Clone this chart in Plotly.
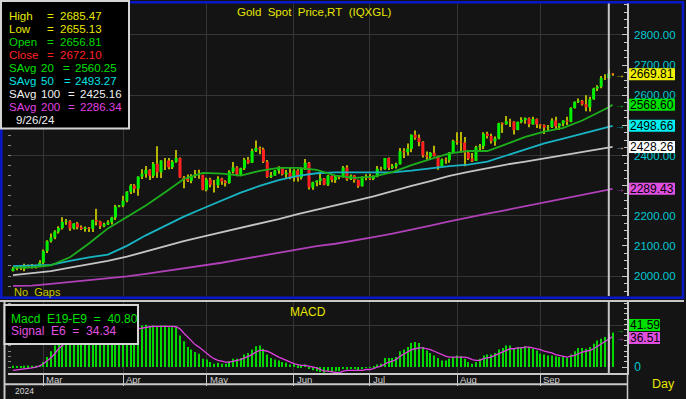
import pandas as pd
import plotly.graph_objects as go

# ---------------- data ----------------
dates = pd.bdate_range("2024-02-20", "2024-09-27")

open_ = [2017, 2025, 2025, 2024, 2035, 2031, 2030, 2034,
         2044, 2083, 2115, 2128, 2148, 2159, 2179, 2182, 2158, 2174, 2162, 2156, 2160, 2157, 2186, 2181, 2165, 2172, 2178, 2194, 2230,
         2233, 2250, 2280, 2300, 2290, 2330, 2339, 2352, 2333, 2373, 2344, 2383, 2383, 2361, 2379, 2392, 2327, 2322, 2316, 2332, 2337, 2335,
         2286, 2320, 2303, 2301, 2323, 2314, 2309, 2346, 2360, 2336, 2358, 2386, 2376, 2415, 2425, 2421, 2379, 2329, 2334, 2350, 2360, 2338, 2343,
         2327, 2350, 2326, 2355, 2376, 2294, 2311, 2316, 2324, 2303, 2333, 2319, 2329, 2328, 2360, 2321, 2334, 2319, 2298, 2327,
         2326, 2323, 2330, 2356, 2355, 2392, 2359, 2364, 2371, 2414, 2411, 2422, 2469, 2459, 2445, 2400, 2396, 2409, 2398, 2364, 2387, 2384, 2410,
         2448, 2446, 2443, 2410, 2390, 2382, 2427, 2431, 2472, 2465, 2447, 2456, 2507, 2504, 2514, 2512, 2485, 2512, 2518, 2524, 2504, 2521,
         2503, 2500, 2493, 2495, 2516, 2497, 2506, 2516, 2512, 2558, 2578, 2582, 2570, 2560, 2587, 2622, 2628, 2657.5, 2656.81, 2672.10]
high = [2031, 2033, 2035, 2041, 2038, 2040, 2037, 2052,
        2088, 2119, 2141, 2152, 2165, 2195, 2189, 2185, 2175, 2179, 2168, 2164, 2163, 2187, 2223, 2183, 2177, 2185, 2197, 2236, 2236,
        2266, 2281, 2305, 2305, 2330, 2354, 2365, 2354, 2378, 2431, 2384, 2392, 2392, 2385, 2418, 2393, 2332, 2337, 2338, 2352, 2353, 2336,
        2326, 2326, 2319, 2331, 2326, 2318, 2351, 2378, 2364, 2359, 2392, 2395, 2422, 2450, 2430, 2426, 2385, 2345, 2352, 2364, 2362, 2352, 2361,
        2354, 2354, 2361, 2388, 2378, 2313, 2318, 2342, 2325, 2335, 2334, 2333, 2333, 2365, 2368, 2337, 2335, 2320, 2331, 2338,
        2339, 2334, 2365, 2363, 2392, 2393, 2372, 2376, 2425, 2424, 2440, 2470, 2483, 2470, 2447, 2413, 2412, 2432, 2399, 2390, 2393, 2412, 2452,
        2477, 2478, 2461, 2418, 2408, 2432, 2438, 2477, 2479, 2472, 2463, 2509, 2510, 2531, 2522, 2514, 2512, 2527, 2526, 2526, 2529, 2523,
        2504, 2503, 2501, 2524, 2529, 2507, 2517, 2529, 2560, 2579, 2589, 2584, 2600, 2595, 2625, 2633, 2664, 2670, 2685.47, 2674]
low = [2015, 2019, 2020, 2016, 2026, 2025, 2025, 2029,
       2039, 2076, 2111, 2122, 2141, 2154, 2170, 2150, 2154, 2155, 2153, 2147, 2146, 2146, 2168, 2156, 2162, 2169, 2171, 2186, 2228,
       2228, 2245, 2272, 2276, 2266, 2322, 2326, 2319, 2325, 2326, 2325, 2352, 2354, 2355, 2376, 2325, 2291, 2312, 2308, 2325, 2323, 2285,
       2281, 2295, 2277, 2292, 2303, 2297, 2306, 2340, 2331, 2333, 2352, 2373, 2375, 2412, 2404, 2375, 2326, 2325, 2333, 2339, 2334, 2323, 2321,
       2314, 2314, 2320, 2352, 2287, 2286, 2298, 2302, 2301, 2299, 2311, 2309, 2321, 2327, 2316, 2319, 2310, 2293, 2297, 2318,
       2319, 2318, 2328, 2350, 2353, 2352, 2355, 2357, 2370, 2392, 2400, 2411, 2452, 2431, 2393, 2384, 2385, 2397, 2353, 2364, 2373, 2376, 2408,
       2436, 2410, 2364, 2385, 2378, 2382, 2415, 2421, 2456, 2440, 2432, 2454, 2475, 2502, 2495, 2470, 2484, 2507, 2505, 2494, 2502, 2491,
       2489, 2471, 2482, 2491, 2485, 2485, 2497, 2501, 2510, 2556, 2574, 2566, 2547, 2546, 2585, 2614, 2623, 2651, 2655.13, 2665]
close = [2025, 2025.5, 2024, 2035, 2031, 2030, 2034, 2044,
         2083, 2115, 2128, 2148, 2159, 2179, 2182, 2158, 2174, 2162, 2156, 2160, 2157, 2186, 2181, 2165, 2172, 2178, 2194, 2230, 2233,
         2250, 2280, 2300, 2290, 2330, 2339, 2352, 2333, 2373, 2344, 2383, 2383.5, 2361, 2379, 2392, 2327, 2322, 2316, 2332, 2337, 2335, 2286,
         2320, 2303, 2301, 2323, 2314, 2309, 2346, 2360, 2336, 2358, 2386, 2376, 2415, 2425, 2421, 2379, 2329, 2334, 2350, 2360, 2338, 2343, 2327,
         2350, 2326, 2355, 2376, 2294, 2311, 2316, 2324, 2303, 2333, 2319, 2329, 2328, 2360, 2321, 2334, 2319, 2298, 2327, 2326,
         2323, 2330, 2356, 2355, 2392, 2359, 2364, 2371, 2414, 2411, 2422, 2469, 2459, 2445, 2400, 2396, 2409, 2398, 2364, 2387, 2384, 2410, 2448,
         2446, 2443, 2410, 2390, 2382, 2427, 2431, 2472, 2465, 2447, 2456, 2507, 2504, 2514, 2512, 2485, 2512, 2518, 2524, 2504, 2521, 2503,
         2500, 2493, 2495, 2516, 2497, 2506, 2516, 2512, 2558, 2578, 2582, 2570, 2560, 2587, 2622, 2628, 2657, 2656.8, 2672.10, 2669.81]

ma_days = list(range(0, 156, 5)) + [157, 158]
sma20 = [2028, 2029, 2035, 2062, 2108, 2158, 2196, 2234, 2277, 2322, 2342, 2340, 2333, 2349, 2359, 2359, 2352,
         2333, 2326, 2330, 2345, 2368, 2388, 2407, 2415, 2415, 2438, 2462, 2479, 2492, 2516, 2546, 2560.25, 2568.60]
sma50 = [2033, 2034, 2037, 2050, 2062, 2071, 2100, 2135, 2166, 2197, 2224, 2251, 2277, 2299, 2318, 2332, 2341,
         2344, 2344, 2342, 2344, 2350, 2358, 2365, 2370, 2380, 2400, 2420, 2440, 2456, 2472, 2488, 2493.27, 2498.66]
sma100 = [2003, 2009, 2016, 2028, 2038, 2050, 2064, 2081, 2100, 2116, 2131, 2145, 2160, 2175, 2189, 2205, 2219,
          2234, 2249, 2264, 2282, 2299, 2315, 2332, 2346, 2359, 2370, 2380, 2390, 2400, 2410, 2420, 2425.16, 2428.26]
sma200 = [1967, 1968, 1974, 1980, 1986, 1992, 1999, 2007, 2016, 2026, 2035, 2044, 2055, 2066, 2077, 2089, 2099,
          2107, 2117, 2129, 2141, 2153, 2167, 2181, 2195, 2207, 2219, 2232, 2245, 2258, 2270, 2282, 2286.34, 2289.43]

macd = [1.5, 1.0, 0.8, 1.5, 1.8, 1.5, 1.6, 2.5,
        6, 12, 19, 26, 32, 38, 42, 41, 41, 39,
        37, 35, 33, 35, 35, 33, 31, 30, 31, 34,
        38, 41, 45, 48, 48, 50, 50, 51, 49, 50,
        49, 50, 50, 48, 48, 48, 38, 31, 24, 21,
        18, 16, 10, 9, 6, 4, 5, 4, 4, 7,
        10, 10, 11, 15, 17, 21, 25, 26, 22, 15,
        11, 9, 8, 6, 5, 3, 4, 2, 2, 3,
        -2, -4, -5, -6, -7, -5, -6, -5, -5, -2,
        -3, -2, -2, -4, -2, -1, -1, 0.5, 3, 4,
        11, 11, 11, 12, 19, 21, 24, 29, 30, 29,
        24, 20, 17, 14, 11, 8, 8, 10, 12, 14,
        13, 10, 6, 4, 6, 10, 14, 15, 15, 17,
        21, 23, 26, 26, 23, 24, 24, 25, 24, 22,
        20, 16, 15, 14, 14, 13, 12, 12, 11, 15,
        19, 23, 23, 22, 24, 28, 32, 34, 36, 40.80,
        41.59]
signal = [-4, -3.5, -3, -2.5, -2, -1, 0, 1.5,
          4, 7, 11, 16, 22, 26, 30, 33, 35, 36,
          36, 36, 35, 35, 35, 34, 33, 32, 32, 33,
          34, 36, 39, 42, 44, 46, 47, 48, 48.5, 49,
          49, 49.5, 49.5, 49, 49, 48.5, 46, 41, 36, 31,
          27, 24, 20, 16, 13, 10, 8, 7, 6, 6,
          7, 8, 9, 11, 13, 15, 18, 20, 20, 19,
          17, 14, 12, 10, 8, 6, 4, 3, 2, 2,
          1, 0, -1, -3, -5, -5, -6, -6.5, -7, -5,
          -4, -4, -4, -4, -4, -3, -3, -2, 0, 1,
          4, 6, 7, 9, 13, 16, 19, 21, 22, 23,
          23, 22, 21, 19, 17, 15, 13, 12, 12, 12,
          12, 12, 11, 9, 8, 8, 10, 11, 12, 14,
          16, 18, 20, 22, 22, 23, 23, 24, 24, 23,
          22, 21, 19, 18, 17, 15, 14, 13, 12, 13,
          14, 16, 18, 19, 20, 22, 25, 28, 31, 34.34,
          36.51]

month_labels = ["Mar", "Apr", "May", "Jun", "Jul", "Aug", "Sep"]
price_ticks = [2000, 2100, 2200, 2300, 2400, 2500, 2600, 2700, 2800]
hidden_price_labels = [2300, 2500]   # covered by the last-value boxes in the original
year_label = "2024"
cursor_day = 157   # 9/26/24
last_day = 158

# ---------------- helpers ----------------
W, H = 686, 399
FONT = "Liberation Sans, Arial, sans-serif"


def fx(p):
    return p / W


def fy(p):
    return 1 - p / H


def txt(text, x, y, color, size, anchor="left", **kw):
    d = dict(text=text, x=fx(x), y=fy(y), xref="paper", yref="paper", xanchor=anchor,
             yanchor="middle", showarrow=False, font=dict(family=FONT, size=size, color=color))
    d.update(kw)
    return d


def rect(x0, y0, x1, y1, line_color, fill=None, width=1, layer="above"):
    return dict(type="rect", xref="paper", yref="paper", x0=fx(x0), x1=fx(x1), y0=fy(y1), y1=fy(y0),
                line=dict(color=line_color, width=width), fillcolor=fill or "rgba(0,0,0,0)", layer=layer)


def line(x0, y0, x1, y1, color, width=1):
    return dict(type="line", xref="paper", yref="paper", x0=fx(x0), x1=fx(x1), y0=fy(y0), y1=fy(y1),
                line=dict(color=color, width=width), layer="above")


NB = "\u00a0"
x = list(range(len(dates)))
month_idx = [i for i in range(1, len(dates)) if dates[i].month != dates[i - 1].month]

C_GREEN_MA, C_CYAN_MA, C_GRAY_MA, C_MAG_MA = "#1cb01c", "#18b4c4", "#c4c4c4", "#b040b8"
BG = "#141414"
GRID = "#353535"
AXC = "#c8c8c8"

fig = go.Figure()

# wicks (under bodies)
fig.add_trace(go.Bar(x=x, y=[h - l for h, l in zip(high, low)], base=low, width=0.3,
                     marker=dict(color="#b4b400", line=dict(width=0)), xaxis="x", yaxis="y",
                     hoverinfo="skip", showlegend=False))
fig.add_trace(go.Candlestick(x=x, open=open_, high=high, low=low, close=close,
                             increasing=dict(fillcolor="#00f000", line=dict(color="#00f000", width=0)),
                             decreasing=dict(fillcolor="#ff2020", line=dict(color="#ff2020", width=0)),
                             whiskerwidth=0, xaxis="x", yaxis="y", showlegend=False))
for vals, col in [(sma200, C_MAG_MA), (sma100, C_GRAY_MA), (sma50, C_CYAN_MA), (sma20, C_GREEN_MA)]:
    fig.add_trace(go.Scatter(x=ma_days, y=vals, mode="lines", line=dict(color=col, width=1.8),
                             xaxis="x", yaxis="y", showlegend=False, hoverinfo="skip"))
# overlay axes holders (grid + left ticks)
fig.add_trace(go.Scatter(x=[None], y=[None], xaxis="x", yaxis="y3", showlegend=False, hoverinfo="skip"))
fig.add_trace(go.Scatter(x=[None], y=[None], xaxis="x2", yaxis="y4", showlegend=False, hoverinfo="skip"))

# MACD
bar_colors = ["#00d800"] * len(macd)
bar_colors[cursor_day] = "#e040e0"
fig.add_trace(go.Bar(x=x, y=macd, width=0.27, marker=dict(color=bar_colors, line=dict(width=0)),
                     xaxis="x2", yaxis="y2", showlegend=False))
fig.add_trace(go.Scatter(x=x, y=signal, mode="lines", line=dict(color="#e040e0", width=1.3),
                         xaxis="x2", yaxis="y2", showlegend=False))

xr = [-1.32, 161.8]
yr_main = [1933.6, 2906.2]
yr_macd = [-7.2, 79.5]
dom_x = [fx(8), fx(627)]

fig.update_layout(
    width=W, height=H, autosize=False, margin=dict(l=0, r=0, t=0, b=0),
    paper_bgcolor=BG, plot_bgcolor=BG, barmode="overlay", boxgap=0.2, boxgroupgap=0,
    hovermode=False, showlegend=False,
    font=dict(family=FONT),
    xaxis=dict(domain=dom_x, range=xr, anchor="y", tickmode="array", tickvals=month_idx,
               showticklabels=False, ticks="", showgrid=True, gridcolor=GRID, gridwidth=1,
               zeroline=False, showline=False, rangeslider=dict(visible=False)),
    yaxis=dict(domain=[fy(296), fy(3)], range=yr_main, anchor="x", side="right",
               tickmode="array", tickvals=price_ticks,
               ticktext=["" if v in hidden_price_labels else f"{v:.2f}" for v in price_ticks],
               tickfont=dict(color="#00c8d2", size=11.5, family=FONT), ticklabelstandoff=3,
               ticks="inside", ticklen=5, tickcolor=AXC, tickwidth=1,
               minor=dict(ticks="inside", ticklen=3, dtick=25, tickcolor=AXC, showgrid=False),
               showgrid=False, zeroline=False, showline=True, linecolor=AXC, linewidth=1.5),
    yaxis3=dict(overlaying="y", anchor="x", side="left", range=yr_main, tickmode="linear",
                tick0=2000, dtick=200, showticklabels=False, ticks="inside", ticklen=3,
                tickcolor="#8a8a8a", showgrid=True, gridcolor=GRID, zeroline=False, showline=False,
                minor=dict(ticks="inside", ticklen=3, tick0=2000, dtick=100 / 3, tickcolor="#8a8a8a",
                           showgrid=False)),
    xaxis2=dict(domain=dom_x, range=xr, anchor="y2", tickmode="array", tickvals=month_idx,
                showticklabels=False, ticks="outside", ticklen=11, tickcolor=AXC, tickwidth=1,
                showgrid=True, gridcolor=GRID, zeroline=False, showline=True, linecolor=AXC,
                linewidth=2),
    yaxis2=dict(domain=[fy(373), fy(301)], range=yr_macd, anchor="x2", side="right",
                tickmode="array", tickvals=[0], ticktext=["0"],
                tickfont=dict(color="#00c8d2", size=12, family=FONT), ticklabelstandoff=3,
                ticks="inside", ticklen=5, tickcolor=AXC,
                minor=dict(ticks="inside", ticklen=3, tick0=0, dtick=6.4, tickcolor=AXC, showgrid=False),
                showgrid=False, zeroline=False, showline=True, linecolor=AXC, linewidth=1.5),
    yaxis4=dict(overlaying="y2", anchor="x2", side="left", range=yr_macd, tickmode="linear",
                tick0=50, dtick=1000, showticklabels=False, ticks="inside", ticklen=3,
                tickcolor="#8a8a8a", showgrid=True, gridcolor=GRID, zeroline=False, showline=False,
                minor=dict(ticks="inside", ticklen=3, tick0=0, dtick=6.4, tickcolor="#8a8a8a",
                           showgrid=False)),
)

shapes = []
# cursor lines
shapes.append(dict(type="line", xref="x", yref="y domain", x0=cursor_day, x1=cursor_day, y0=0, y1=1,
                   line=dict(color="#c8c8c8", width=2), layer="above"))
shapes.append(dict(type="line", xref="x2", yref="y2 domain", x0=cursor_day, x1=cursor_day, y0=0, y1=1,
                   line=dict(color="#c8c8c8", width=2), layer="above"))
# frames
shapes.append(rect(1.3, 2.3, 683, 297.8, "#0818c8", width=2.5))
shapes.append(line(0, 301, 684, 301, "#c8c8c8", 2))
shapes.append(line(4.5, 301, 4.5, 399, "#c8c8c8", 2))
shapes.append(line(627.5, 373, 627.5, 399, "#c8c8c8", 1.5))
shapes.append(line(4.5, 384.3, 628, 384.3, "#c8c8c8", 2))
# data window and macd legend boxes
shapes.append(rect(1, 1, 129, 128.5, "#d4d4d4", fill="#000000", width=2))
shapes.append(rect(4.5, 305, 138, 344, "#d4d4d4", fill="#000000", width=2))

annotations = []
c = cursor_day
mi = ma_days.index(c)
rows = [
    (15.7, [("High", 9), ("=", 47), (f"{high[c]:.2f}", 60)], "#e8e800"),
    (29.0, [("Low", 9), ("=", 47), (f"{low[c]:.2f}", 60)], "#e8e800"),
    (42.3, [("Open", 9), ("=", 47), (f"{open_[c]:.2f}", 60)], "#00d800"),
    (55.0, [("Close", 9), ("=", 47), (f"{close[c]:.2f}", 60)], "#ff2020"),
    (68.0, [("SAvg", 9), ("20", 41), ("=", 63), (f"{sma20[mi]:.2f}", 75)], "#00e000"),
    (81.0, [("SAvg", 9), ("50", 41), ("=", 64), (f"{sma50[mi]:.2f}", 75)], "#00e4e4"),
    (94.0, [("SAvg", 9), ("100", 41), ("=", 68), (f"{sma100[mi]:.2f}", 80)], "#f0f0f0"),
    (107.0, [("SAvg", 9), ("200", 41), ("=", 68), (f"{sma200[mi]:.2f}", 80)], "#e040e0"),
]
for yy, toks, col in rows:
    for t, xx in toks:
        annotations.append(txt(t, xx - 2, yy, col, 11.5))
d = dates[c]
annotations.append(txt(f"{d.month}/{d.day}/{d.year % 100}", 14, 120, "#f0f0f0", 11.5))

annotations.append(txt(NB.join(["Gold", "", "Spot", "", "Price,RT", "", "(IQXGL)"]), 314, 12, "#e6e600", 11.5,
                       anchor="center"))
annotations.append(txt("No" + NB + NB + "Gaps", 12, 292, "#c8c800", 11))
annotations.append(txt("MACD", 308, 312, "#e6e600", 12, anchor="center"))
annotations.append(txt(f"Macd{NB}{NB}E19-E9{NB}{NB}={NB}{NB}{macd[c]:.2f}", 9, 318.7, "#00e000", 12))
annotations.append(txt(f"Signal{NB}{NB}E6{NB}{NB}={NB}{NB}{signal[c]:.2f}", 9, 331, "#e050e0", 12))

# last-value boxes on the price axis
last_vals = [(close[last_day], "#f0f000"), (sma20[-1], "#00e000"), (sma50[-1], "#00f0f0"),
             (sma100[-1], "#ffffff"), (sma200[-1], "#e050e0")]
arrow_cols = ["#e8e800", "#00d000", "#00c8d0", "#d8d8d8", "#c040c0"]
for (v, col), acol in zip(last_vals, arrow_cols):
    shapes.append(dict(type="rect", xref="paper", yref="y", x0=fx(629), x1=fx(675), y0=v - 20, y1=v + 20,
                       fillcolor=col, line=dict(width=0), layer="above"))
    annotations.append(dict(text=f"{v:.2f}", x=fx(652), y=v, xref="paper", yref="y", xanchor="center",
                            yanchor="middle", showarrow=False,
                            font=dict(family=FONT, size=12, color="#000000")))
    annotations.append(dict(text="\u2192", x=fx(620), y=v, xref="paper", yref="y", xanchor="center",
                            yanchor="middle", showarrow=False, font=dict(family=FONT, size=10, color=acol)))

# last-value boxes on the MACD axis (stacked to avoid overlap)
for v, col, cy in [(macd[last_day], "#00e000", 325), (signal[last_day], "#e050e0", 338)]:
    shapes.append(rect(629, cy - 6, 660, cy + 6, col, fill=col, width=0))
    annotations.append(txt(f"{v:.2f}", 644.5, cy, "#000000", 12, anchor="center"))
for v, col, sh in [(macd[last_day], "#00d000", 2), (signal[last_day], "#e040e0", -2)]:
    annotations.append(dict(text="\u2192", x=fx(620), y=v, xref="paper", yref="y2", xanchor="center",
                            yanchor="middle", yshift=sh, showarrow=False,
                            font=dict(family=FONT, size=8, color=col)))

# month labels, year, period
for m, lab in zip(month_idx, month_labels):
    annotations.append(dict(text=lab, x=m, xref="x2", y=fy(379.5), yref="paper", xanchor="left",
                            xshift=1, yanchor="middle", showarrow=False,
                            font=dict(family=FONT, size=9.5, color="#d0d0d0")))
annotations.append(txt(year_label, 13, 391, "#d8d8d8", 8.5))
annotations.append(txt("Day", 650, 384, "#e6e600", 12.5))

fig.update_layout(shapes=shapes, annotations=annotations)

fig.write_html("out.html", config={"displayModeBar": False},
               post_script="document.body.style.margin='0';document.body.style.padding='0';")
